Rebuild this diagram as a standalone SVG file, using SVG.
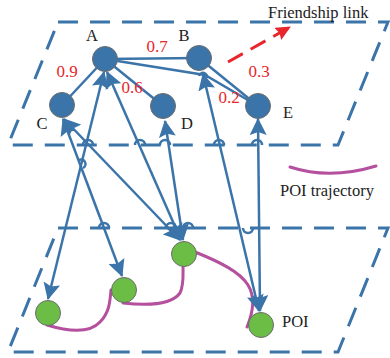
<svg xmlns="http://www.w3.org/2000/svg" width="390" height="358" viewBox="0 0 390 358">
<style>
.layer{fill:none;stroke:#3b74a9;stroke-width:3;stroke-dasharray:20 12}
.edge{fill:none;stroke:#3b74a9;stroke-width:2.5}
.link{fill:none;stroke:#3b74a9;stroke-width:2.5;marker-start:url(#ah);marker-end:url(#ah)}
.hop{fill:none;stroke:#3b74a9;stroke-width:2.5}
.user{fill:#3b74a9;stroke:#6b6b6b;stroke-width:1}
.poi{fill:#6cbd45;stroke:#6b6b6b;stroke-width:1}
.traj{fill:none;stroke:#b5509f;stroke-width:3;stroke-linecap:round}
.lbl{font-family:"Liberation Serif",serif;font-size:16.5px;fill:#222}
.w{font-family:"Liberation Serif",serif;font-size:17px;fill:#e8262b;text-anchor:middle}
</style>
<defs>
<marker id="ah" markerUnits="userSpaceOnUse" markerWidth="18" markerHeight="17" refX="16" refY="8.5" orient="auto-start-reverse">
<path d="M0,0 L17,8.5 L0,17 L3,8.5 z" fill="#3b74a9"/>
</marker>
<marker id="rh" markerUnits="userSpaceOnUse" markerWidth="16" markerHeight="14" refX="14" refY="7" orient="auto">
<path d="M0,0 L15,7 L0,14 L2,7 z" fill="#e8262b"/>
</marker>
</defs>
<g id="layers">
<path class="layer" d="M58,22 L388,22 L338,145 L8,145 Z"/>
<path class="layer" d="M58,228 L388,228 L338,352 L8,352 Z"/>
</g>
<g id="trajectories">
<path class="traj" d="M47,325 C70,332 90,333 100,322 C110,312 110,300 111,290"/>
<path class="traj" d="M123,303 C150,306 172,304 180,293 C184,285 183,275 183,266"/>
<path class="traj" d="M195,252 C220,262 240,272 248,285 C256,298 252,315 247,327"/>
</g>
<g id="connectors">
<path class="edge" d="M105,59 L62,105"/>
<path class="edge" d="M105,59 L199,58"/>
<path class="edge" d="M105,59 L163,106"/>
<path class="edge" d="M105,59 L205,75 L258,106"/>
<path class="edge" d="M199,58 L258,106"/>
<path class="link" d="M104,72 L48,299"/>
<path class="link" d="M107,72 L181,240"/>
<path class="link" d="M63,119 L122,276"/>
<path class="link" d="M64,119 L180,240"/>
<path class="link" d="M165,121 L183,240"/>
<path class="link" d="M203,74 L259,311"/>
<path class="link" d="M258,119 L260,311"/>
<path class="hop" d="M83,145 A5,5 0 0 1 93,145"/>
<path class="hop" d="M135,145 A5,5 0 0 1 145,145"/>
<path class="hop" d="M160,145 A5,5 0 0 1 170,145"/>
<path class="hop" d="M214,145 A5,5 0 0 1 224,145"/>
<path class="hop" d="M252,145 A5,5 0 0 1 262,145"/>
<path class="hop" d="M99,228 A5,5 0 0 1 109,228"/>
<path class="hop" d="M166,228 A5,5 0 0 1 176,228"/>
<path class="hop" d="M183,228 A5,5 0 0 1 193,228"/>
<path class="hop" d="M243,228 A5,5 0 0 0 253,228"/>
<path class="hop" d="M79,160 A4,4 0 0 1 83,168"/>
<path class="hop" d="M199,76 A4,4 0 0 1 207,78"/>
<path d="M228,62 L290,27" fill="none" stroke="#e8262b" stroke-width="3" stroke-dasharray="17 9" marker-end="url(#rh)"/>
</g>
<g id="node-A"><circle class="user" cx="105" cy="59" r="12.5"/><text class="lbl" x="92" y="41" text-anchor="middle">A</text></g>
<g id="node-B"><circle class="user" cx="199" cy="58" r="12.5"/><text class="lbl" x="184" y="41" text-anchor="middle">B</text></g>
<g id="node-C"><circle class="user" cx="62" cy="105" r="12.5"/><text class="lbl" x="42" y="129" text-anchor="middle">C</text></g>
<g id="node-D"><circle class="user" cx="163" cy="106" r="12.5"/><text class="lbl" x="187" y="129" text-anchor="middle">D</text></g>
<g id="node-E"><circle class="user" cx="258" cy="106" r="12.5"/><text class="lbl" x="288" y="118" text-anchor="middle">E</text></g>
<g id="poi-1"><circle class="poi" cx="48" cy="313" r="12.5"/></g>
<g id="poi-2"><circle class="poi" cx="124" cy="290" r="12.5"/></g>
<g id="poi-3"><circle class="poi" cx="184" cy="254" r="12.5"/></g>
<g id="poi-4"><circle class="poi" cx="261" cy="325" r="12.5"/><text class="lbl" x="282" y="327">POI</text></g>
<g id="weights">
<text class="w" x="67" y="77">0.9</text>
<text class="w" x="157" y="52">0.7</text>
<text class="w" x="132" y="93">0.6</text>
<text class="w" x="259" y="77">0.3</text>
<text class="w" x="229" y="103">0.2</text>
</g>
<g id="legend">
<text class="lbl" x="268" y="18">Friendship link</text>
<path class="traj" d="M290,167 Q330,180 376,166"/>
<text class="lbl" x="280" y="196">POI trajectory</text>
</g>
</svg>
